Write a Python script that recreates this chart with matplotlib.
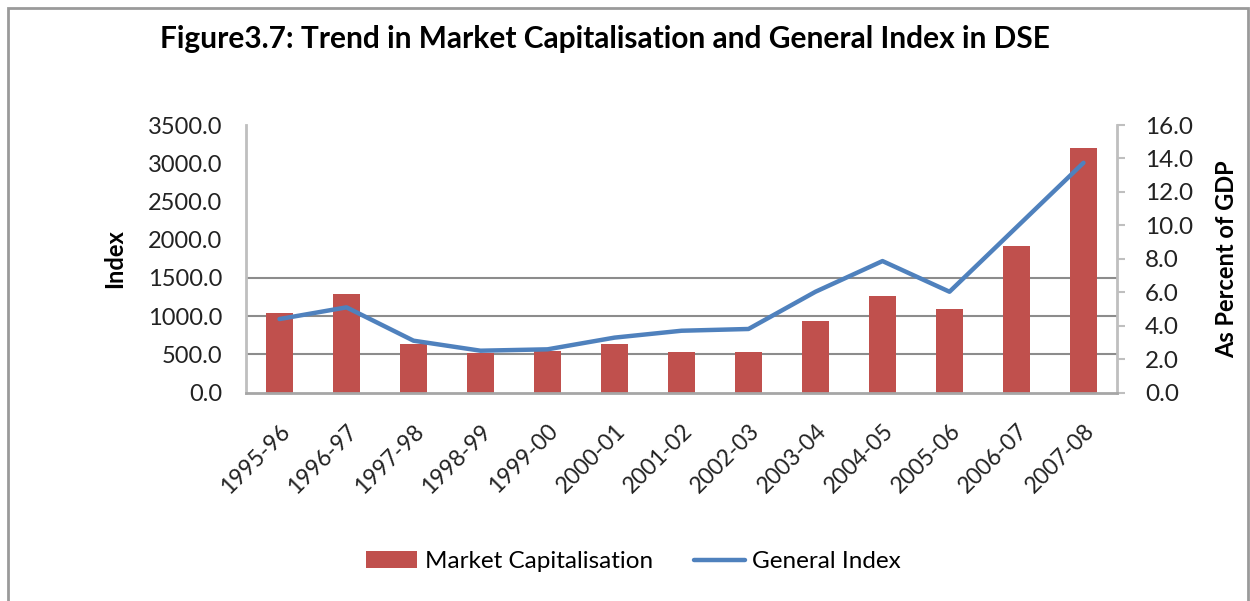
import matplotlib
matplotlib.use("Agg")
import matplotlib.pyplot as plt
from matplotlib.patches import Rectangle

plt.rcParams['font.family'] = ['Lato', 'DejaVu Sans']

years = ["1995-96", "1996-97", "1997-98", "1998-99", "1999-00", "2000-01", "2001-02",
         "2002-03", "2003-04", "2004-05", "2005-06", "2006-07", "2007-08"]
# market capitalisation, as percent of GDP (right axis)
market_cap = [4.75, 5.9, 2.9, 2.35, 2.5, 2.9, 2.45, 2.45, 4.3, 5.8, 5.0, 8.75, 14.6]
# DSE general index (left axis)
general_index = [963, 1116, 680, 549, 567, 720, 810, 833, 1320, 1721, 1320, 2163, 3006]

red = '#C0504D'
blue = '#4F81BD'
axis_grey = '#BFBFBF'

fig = plt.figure(figsize=(12.5, 6.01), dpi=100)
ax = fig.add_axes([0.1968, 0.3466, 0.6968, 0.4454])
ax2 = ax.twinx()

x = list(range(len(years)))

# bars go on the right axis, drawn underneath the index line
bars = ax2.bar(x, market_cap, width=0.4, color=red, zorder=2, label='Market Capitalisation')
# horizontal grid lines of the left (index) axis, only 500/1000/1500 show in the original
ratio = 3500 / 16.0
for g in [500, 1000, 1500]:
    ax2.axhline(g / ratio, color='#8C8C8C', lw=1.5, zorder=1)

ax.set_zorder(ax2.get_zorder() + 1)
ax.patch.set_visible(False)
line, = ax.plot(x, general_index, color=blue, lw=3.2, solid_capstyle='round',
                label='General Index', zorder=3)

ax.set_xlim(-0.5, len(years) - 0.5)
ax.set_ylim(0, 3500)
ax2.set_ylim(0, 16)
ax.set_yticks(range(0, 3501, 500))
ax.set_yticklabels([f"{v:.1f}" for v in range(0, 3501, 500)])
ax2.set_yticks(range(0, 17, 2))
ax2.set_yticklabels([f"{v:.1f}" for v in range(0, 17, 2)])

ax.set_xticks(x)
ax.set_xticklabels(years, rotation=45, ha='right', rotation_mode='anchor')

for a in (ax, ax2):
    for s in a.spines.values():
        s.set_visible(False)
ax.spines['left'].set_visible(True)
ax.spines['bottom'].set_visible(True)
ax2.spines['right'].set_visible(True)
for s in (ax.spines['left'], ax.spines['bottom'], ax2.spines['right']):
    s.set_color(axis_grey)
    s.set_linewidth(2)
ax.spines['bottom'].set_color('#A6A6A6')

ax.tick_params(axis='y', length=0, labelsize=17, pad=17, colors='#222222')
ax.tick_params(axis='x', length=0, labelsize=16.5, pad=20, colors='#222222')
ax2.tick_params(axis='y', length=6, width=1.5, color=axis_grey, labelsize=17.5, pad=14,
                labelcolor='#222222')

ax.set_ylabel('Index', fontsize=17, fontweight='bold', labelpad=16)
ax2.set_ylabel('As Percent of GDP', fontsize=17, fontweight='bold', labelpad=16)

fig.text(0.484, 0.935, 'Figure3.7: Trend in Market Capitalisation and General Index in DSE',
         ha='center', va='center', fontsize=21.5, fontweight='bold')

fig.legend([bars, line], ['Market Capitalisation', 'General Index'], loc='center',
           bbox_to_anchor=(0.507, 0.065), ncol=2, frameon=False, fontsize=17.5,
           handlelength=2.1, handletextpad=0.3, columnspacing=1.7)

fig.patches.append(Rectangle((8 / 1250, -0.01), 1240 / 1250, 1 - 8 / 601 + 0.01,
                             transform=fig.transFigure, fill=False,
                             edgecolor='#9A9A9A', lw=2))

fig.savefig('out.png', dpi=100)
